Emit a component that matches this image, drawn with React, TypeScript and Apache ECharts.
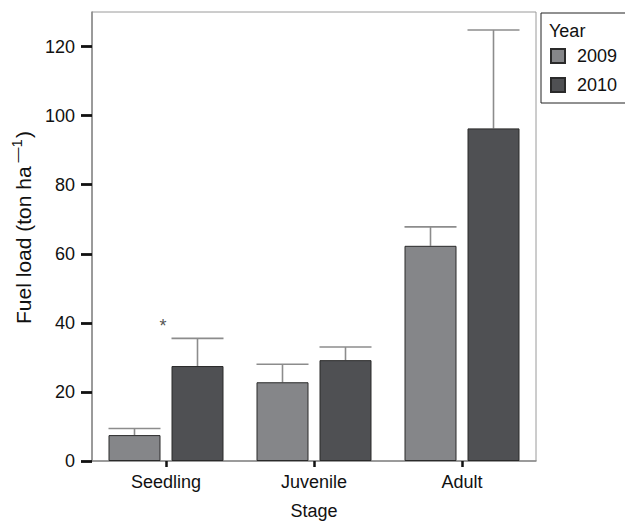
import React, { useEffect, useRef } from "react";
import * as echarts from "echarts";

const categories = ["Seedling", "Juvenile", "Adult"];
const years = ["2009", "2010"];
const values2009 = [7.5, 22.8, 62.3];
const values2010 = [27.5, 29.2, 96.3];
const errTop2009 = [9.4, 28.0, 67.8];
const errTop2010 = [35.5, 33.0, 124.8];
const yTicks = [0, 20, 40, 60, 80, 100, 120];
const annotCategories = ["Seedling"];
const annotValues = [39];
const annotTexts = ["*"];

const BAR_W = 52;
const BAR_GAP = 11;
const FONT = "Liberation Sans, Arial, Helvetica, sans-serif";
const C2009 = "#858689";
const C2010 = "#4f5053";

function errorSeries(name: string, vals: number[], tops: number[], sign: number) {
  return {
    type: "custom",
    name: name + "-err",
    silent: true,
    z: 1,
    data: vals.map((v, i) => [i, v, tops[i]]),
    renderItem: (_p: any, api: any) => {
      const base = api.coord([api.value(0), api.value(1)]);
      const top = api.coord([api.value(0), api.value(2)]);
      const x = base[0] + (sign * (BAR_W + BAR_GAP)) / 2;
      const style = { stroke: "#8c8c8c", lineWidth: 1.6 };
      return {
        type: "group",
        children: [
          { type: "line", shape: { x1: x, y1: base[1], x2: x, y2: top[1] }, style },
          { type: "line", shape: { x1: x - BAR_W / 2, y1: top[1], x2: x + BAR_W / 2, y2: top[1] }, style },
        ],
      };
    },
  };
}

export default function App() {
  const ref = useRef<HTMLDivElement>(null);
  useEffect(() => {
    if (!ref.current) return;
    const chart = echarts.init(ref.current, null, { renderer: "svg" });
    chart.setOption({
      animation: false,
      backgroundColor: "#ffffff",
      textStyle: { fontFamily: FONT },
      grid: {
        left: 92,
        right: 89,
        top: 12,
        bottom: 61,
        show: true,
        borderColor: "#9a9a9a",
        borderWidth: 1,
        outerBoundsMode: "none",
        containLabel: false,
      },
      legend: {
        data: years,
        orient: "vertical",
        left: 550,
        top: 47,
        padding: 0,
        itemWidth: 14,
        itemHeight: 14,
        itemGap: 11,
        icon: "rect",
        textStyle: { fontSize: 18, color: "#111", fontFamily: FONT, padding: [0, 0, 0, 7] },
        selectedMode: false,
      },
      graphic: [
        {
          type: "rect",
          shape: { x: 541, y: 13, width: 100, height: 90 },
          style: { fill: "none", stroke: "#222", lineWidth: 1 },
          z: 100,
        },
        {
          type: "text",
          x: 549,
          y: 22,
          style: { text: "Year", fontSize: 18, fill: "#111", fontFamily: FONT },
          z: 100,
        },
      ],
      xAxis: {
        type: "category",
        data: categories,
        name: "Stage",
        nameLocation: "middle",
        nameGap: 41,
        nameTextStyle: { fontSize: 18, color: "#111", fontFamily: FONT },
        axisLine: { lineStyle: { color: "#8a8a8a", width: 1.5 } },
        axisTick: { show: true, alignWithLabel: true, length: 6, lineStyle: { color: "#111", width: 2.5 } },
        axisLabel: { fontSize: 18, color: "#111", margin: 12, fontFamily: FONT },
      },
      yAxis: {
        type: "value",
        min: 0,
        max: 130,
        interval: 20,
        name: "Fuel load (ton ha{sup|—1})",
        nameLocation: "middle",
        nameGap: 55,
        nameTextStyle: {
          fontSize: 21,
          color: "#111",
          fontFamily: FONT,
          padding: [0, 0, 0, 18],
          rich: {
            sup: { fontSize: 15, color: "#111", fontFamily: FONT, padding: [0, 1, 13, 4] },
          },
        },
        axisLine: { show: true, lineStyle: { color: "#8a8a8a", width: 1.5 } },
        axisTick: { show: true, length: 11, lineStyle: { color: "#111", width: 2.8 }, customValues: yTicks },
        axisLabel: { fontSize: 18, color: "#111", margin: 17, fontFamily: FONT, customValues: yTicks },
        splitLine: { show: false },
      },
      series: [
        {
          type: "bar",
          name: years[0],
          data: values2009,
          barWidth: BAR_W,
          barGap: (BAR_GAP / BAR_W) * 100 + "%",
          itemStyle: { color: C2009, borderColor: "#2a2a2a", borderWidth: 1 },
          z: 2,
        },
        {
          type: "bar",
          name: years[1],
          data: values2010,
          barWidth: BAR_W,
          itemStyle: { color: C2010, borderColor: "#2a2a2a", borderWidth: 1 },
          z: 2,
        },
        errorSeries(years[0], values2009, errTop2009, -1),
        errorSeries(years[1], values2010, errTop2010, 1),
        {
          type: "custom",
          name: "annot",
          silent: true,
          data: annotCategories.map((c, i) => [categories.indexOf(c), annotValues[i]]),
          renderItem: (p: any, api: any) => {
            const pt = api.coord([api.value(0), api.value(1)]);
            return {
              type: "text",
              x: pt[0] - 3,
              y: pt[1],
              style: {
                text: annotTexts[p.dataIndex],
                fontSize: 18,
                fill: "#555",
                fontFamily: FONT,
                align: "center",
                verticalAlign: "middle",
              },
            };
          },
        },
      ],
    });
    return () => chart.dispose();
  }, []);
  return <div ref={ref} style={{ width: 625, height: 522, position: "absolute", left: 0, top: 0 }} />;
}
